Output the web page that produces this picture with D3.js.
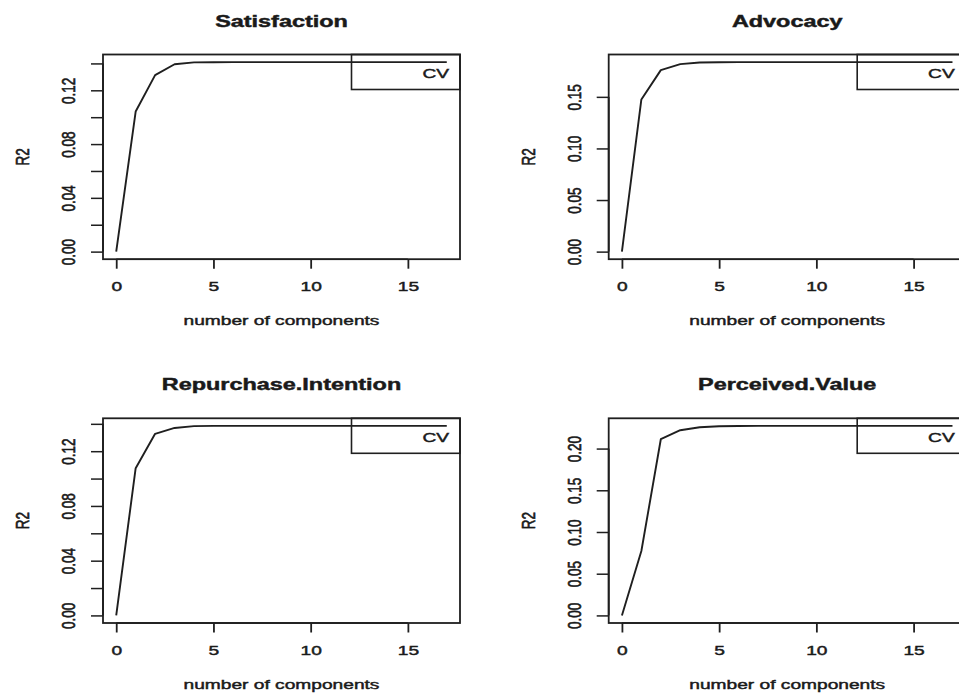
<!DOCTYPE html>
<html><head><meta charset="utf-8">
<script src="https://cdn.jsdelivr.net/npm/d3@7"></script>
<style>
body{margin:0;background:#fff}
svg{display:block}
text{font-family:"Liberation Sans",Arial,Helvetica,sans-serif;fill:#1a1a1a;stroke:#1a1a1a;stroke-width:0.45px}
</style>
</head><body>
<svg id="chart" width="959" height="695"></svg>
<script>
// ---- data ----
const components = [0,1,2,3,4,5,6,7,8,9,10,11,12,13,14,15,16,17];
const titles = ["Satisfaction","Advocacy","Repurchase.Intention","Perceived.Value"];
const satisfaction = [0,0.1042,0.1313,0.1394,0.1408,0.1409,0.141,0.141,0.141,0.141,0.141,0.141,0.141,0.141,0.141,0.141,0.141,0.141];
const advocacy = [0,0.1475,0.1759,0.1817,0.1833,0.1836,0.1837,0.1837,0.1837,0.1837,0.1837,0.1837,0.1837,0.1837,0.1837,0.1837,0.1837,0.1837];
const repurchaseIntention = [0,0.1076,0.1327,0.137,0.1383,0.1385,0.1385,0.1385,0.1385,0.1385,0.1385,0.1385,0.1385,0.1385,0.1385,0.1385,0.1385,0.1385];
const perceivedValue = [0,0.0772,0.2112,0.222,0.2256,0.2268,0.2271,0.2272,0.2272,0.2272,0.2272,0.2272,0.2272,0.2272,0.2272,0.2272,0.2272,0.2272];
const ticksSmall = [0,0.02,0.04,0.06,0.08,0.10,0.12,0.14];
const ticksSmallLabels = ["0.00","","0.04","","0.08","","0.12",""];
const ticksAdvocacy = [0,0.05,0.10,0.15];
const ticksAdvocacyLabels = ["0.00","0.05","0.10","0.15"];
const ticksPerceived = [0,0.05,0.10,0.15,0.20];
const ticksPerceivedLabels = ["0.00","0.05","0.10","0.15","0.20"];
const xTicks = [0,5,10,15];
const xTickLabels = ["0","5","10","15"];
const legendLabel = "CV";
const xAxisTitle = "number of components";
const yAxisTitle = "R2";

// ---- layout ----
const SX = 1.42;              // horizontal stretch of the source image
const colLeft = [103, 608.7];
const rowTop = [54.5, 418.3];
const plotW = 357, plotH = 204.7;
const seriesList = [satisfaction, advocacy, repurchaseIntention, perceivedValue];
const tickList = [ticksSmall, ticksAdvocacy, ticksSmall, ticksPerceived];
const tickLabelList = [ticksSmallLabels, ticksAdvocacyLabels, ticksSmallLabels, ticksPerceivedLabels];

const svg = d3.select("#chart");
const ink = "#1f1f1f";

seriesList.forEach((vals, p) => {
  const L = colLeft[p % 2], T = rowTop[Math.floor(p / 2)];
  const R = L + plotW, B = T + plotH;
  const xe = d3.extent(components), xr = xe[1] - xe[0];
  const ye = d3.extent(vals), yr = ye[1] - ye[0];
  const x = d3.scaleLinear().domain([xe[0] - 0.04 * xr, xe[1] + 0.04 * xr]).range([L, R]);
  const y = d3.scaleLinear().domain([ye[0] - 0.04 * yr, ye[1] + 0.04 * yr]).range([B, T]);
  const g = svg.append("g");

  // title
  g.append("text")
    .attr("transform", `translate(${(L + R) / 2},${T - 28}) scale(${SX},1)`)
    .attr("text-anchor", "middle")
    .style("font-size", "16.5px").style("font-weight", "bold")
    .text(titles[p]);

  // y axis
  const labs = tickLabelList[p];
  const ya = g.append("g").attr("transform", `translate(${L},0)`)
    .call(d3.axisLeft(y).tickValues(tickList[p]).tickSize(12).tickSizeOuter(0).tickFormat((d, i) => labs[i]));
  ya.select(".domain").remove();
  ya.selectAll("line").attr("stroke", ink).attr("stroke-width", 1.5);
  ya.selectAll("text")
    .attr("x", null).attr("dy", null)
    .attr("transform", `translate(-28,0) scale(${SX},1) rotate(-90)`)
    .attr("text-anchor", "middle")
    .style("font-size", "13.5px").attr("font-family", null).attr("fill", ink);
  ya.append("line").attr("x1", 0).attr("x2", 0)
    .attr("y1", y(tickList[p][0])).attr("y2", y(tickList[p][tickList[p].length - 1]))
    .attr("stroke", ink).attr("stroke-width", 1.8);

  // x axis
  const xa = g.append("g").attr("transform", `translate(0,${B})`)
    .call(d3.axisBottom(x).tickValues(xTicks).tickSize(9.5).tickSizeOuter(0).tickFormat((d, i) => xTickLabels[i]));
  xa.select(".domain").remove();
  xa.selectAll("line").attr("stroke", ink).attr("stroke-width", 1.8);
  xa.selectAll("text")
    .attr("y", null).attr("dy", null)
    .attr("transform", `translate(0,31.7) scale(${SX},1)`)
    .attr("text-anchor", "middle")
    .style("font-size", "13.5px").attr("font-family", null).attr("fill", ink);
  xa.append("line").attr("y1", 0).attr("y2", 0)
    .attr("x1", x(xTicks[0])).attr("x2", x(xTicks[xTicks.length - 1]))
    .attr("stroke", ink).attr("stroke-width", 1.5);

  // axis titles
  g.append("text")
    .attr("transform", `translate(${(L + R) / 2},${B + 65.7}) scale(${SX},1)`)
    .attr("text-anchor", "middle").style("font-size", "13.5px")
    .text(xAxisTitle);
  g.append("text")
    .attr("transform", `translate(${L - 74},${(T + B) / 2}) scale(${SX},1) rotate(-90)`)
    .attr("text-anchor", "middle").style("font-size", "13.5px")
    .text(yAxisTitle);

  // data line
  g.append("path")
    .datum(components.map((c, i) => [c, vals[i]]))
    .attr("fill", "none").attr("stroke", ink).attr("stroke-width", 1.9)
    .attr("stroke-linejoin", "round")
    .attr("d", d3.line().x(d => x(d[0])).y(d => y(d[1])));

  // plot box
  g.append("rect").attr("x", L).attr("y", T).attr("width", plotW).attr("height", plotH)
    .attr("fill", "none").attr("stroke", ink).attr("stroke-width", 1.8);

  // legend
  g.append("rect").attr("x", R - 108.5).attr("y", T).attr("width", 108.5).attr("height", 35)
    .attr("fill", "none").attr("stroke", ink).attr("stroke-width", 1.6);
  g.append("text")
    .attr("transform", `translate(${R - 11},${T + 23.5}) scale(${SX},1)`)
    .attr("text-anchor", "end").style("font-size", "13.5px")
    .text(legendLabel);
});
</script>
</body></html>
